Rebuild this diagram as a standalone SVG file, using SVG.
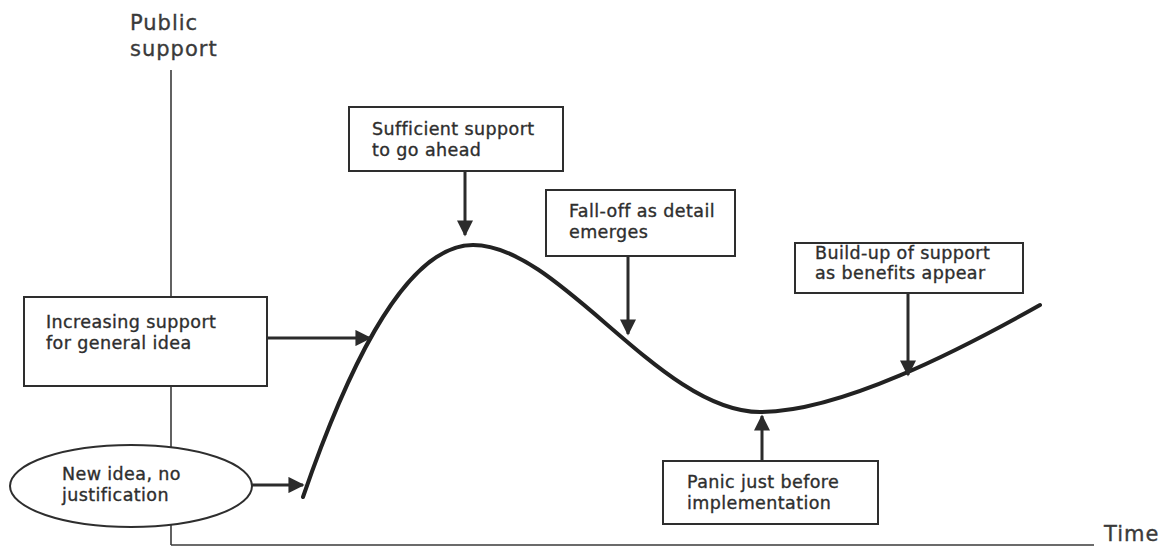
<svg xmlns="http://www.w3.org/2000/svg" width="1166" height="547" viewBox="0 0 1166 547">
  <defs>
    <marker id="head" viewBox="0 0 10 10" refX="9" refY="5" markerWidth="5.4" markerHeight="5.4" orient="auto" markerUnits="strokeWidth">
      <path d="M0,0 L10,5 L0,10 Z" fill="#2b2b2b"/>
    </marker>
    <style>
      .lbl { font-family: "DejaVu Sans", "Liberation Sans", sans-serif; font-size: 17.5px; letter-spacing: 0.4px; fill: #2e2e2e; stroke: #2e2e2e; stroke-width: 0.35; }
      .axis-lbl { font-family: "DejaVu Sans", "Liberation Sans", sans-serif; font-size: 21px; letter-spacing: 1px; fill: #3a3a3a; stroke: #3a3a3a; stroke-width: 0.35; }
      .box { fill: #ffffff; stroke: #2e2e2e; stroke-width: 2; }
      .axis { stroke: #3a3a3a; stroke-width: 1.6; fill: none; }
      .arrow { stroke: #2b2b2b; stroke-width: 3; fill: none; marker-end: url(#head); }
      .curve { stroke: #222222; stroke-width: 4; fill: none; stroke-linecap: round; }
    </style>
  </defs>

  <rect width="1166" height="547" fill="#ffffff"/>

  <!-- axes -->
  <g id="axes">
    <line class="axis" x1="171" y1="70" x2="171" y2="545"/>
    <line class="axis" x1="171" y1="545" x2="1094" y2="545"/>
    <text class="axis-lbl" x="130" y="30">Public</text>
    <text class="axis-lbl" x="130" y="56">support</text>
    <text class="axis-lbl" x="1104" y="541">Time</text>
  </g>

  <!-- support curve -->
  <g id="curve">
    <path class="curve" d="M303,497 C340,390 400,245 473,245 C560,245 660,412 760,412 C840,412 960,350 1040,305"/>
  </g>

  <!-- connectors -->
  <g id="connectors">
    <line class="arrow" x1="252" y1="485" x2="303" y2="485"/>
    <line class="arrow" x1="267" y1="338" x2="370" y2="338"/>
    <line class="arrow" x1="465" y1="171" x2="465" y2="235"/>
    <line class="arrow" x1="628" y1="256" x2="628" y2="334"/>
    <line class="arrow" x1="908" y1="293" x2="908" y2="375"/>
    <line class="arrow" x1="762" y1="461" x2="762" y2="416"/>
  </g>

  <g id="new-idea">
    <ellipse class="box" cx="131" cy="486" rx="121" ry="41"/>
    <text class="lbl" x="62" y="480">New idea, no</text>
    <text class="lbl" x="62" y="501">justification</text>
  </g>

  <g id="increasing-support">
    <rect class="box" x="24" y="297" width="243" height="89"/>
    <text class="lbl" x="46" y="328">Increasing support</text>
    <text class="lbl" x="46" y="349">for general idea</text>
  </g>

  <g id="sufficient-support">
    <rect class="box" x="349" y="107" width="214" height="64"/>
    <text class="lbl" x="372" y="135">Sufficient support</text>
    <text class="lbl" x="372" y="156">to go ahead</text>
  </g>

  <g id="fall-off">
    <rect class="box" x="546" y="190" width="189" height="66"/>
    <text class="lbl" x="569" y="217">Fall-off as detail</text>
    <text class="lbl" x="569" y="238">emerges</text>
  </g>

  <g id="build-up">
    <rect class="box" x="795" y="243" width="228" height="50"/>
    <text class="lbl" x="815" y="259">Build-up of support</text>
    <text class="lbl" x="815" y="279">as benefits appear</text>
  </g>

  <g id="panic">
    <rect class="box" x="663" y="461" width="215" height="63"/>
    <text class="lbl" x="687" y="488">Panic just before</text>
    <text class="lbl" x="687" y="509">implementation</text>
  </g>
</svg>
